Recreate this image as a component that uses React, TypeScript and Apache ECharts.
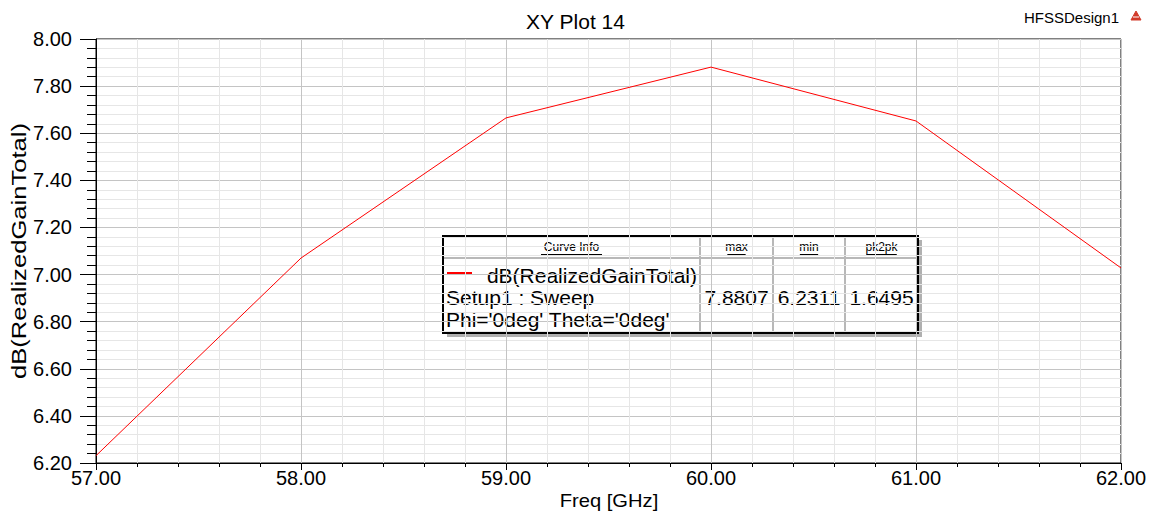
import React, { useEffect, useRef } from "react";
import * as echarts from "echarts";

const freqs = [57, 58, 59, 60, 61, 62];
const gainDb = [6.2311, 7.07, 7.665, 7.8807, 7.652, 7.028];
const legendHeaders = ["Curve Info", "max", "min", "pk2pk"];
const legendLines = ["dB(RealizedGainTotal)", "Setup1 : Sweep", "Phi='0deg' Theta='0deg'"];
const legendValues = ["7.8807", "6.2311", "1.6495"];

const FONT = "Liberation Sans, Arial, sans-serif";

export default function App() {
  const ref = useRef<HTMLDivElement>(null);
  useEffect(() => {
    if (!ref.current) return;
    const chart = echarts.init(ref.current, null, { renderer: "svg" });
    const L = 443, R = 918, T = 236, B = 333, H = 258;
    const cols = [443, 700, 773, 845, 918];
    const headerEls: any[] = [];
    legendHeaders.forEach((h, i) => {
      const cx = (cols[i] + cols[i + 1]) / 2;
      const w = h.length * 6.1;
      headerEls.push({
        type: "text", x: cx, y: 247,
        style: { text: h, fill: "#000", font: `12px ${FONT}`, align: "center", verticalAlign: "middle" },
      });
      headerEls.push({
        type: "line", shape: { x1: cx - w / 2, y1: 254.5, x2: cx + w / 2, y2: 254.5 },
        style: { stroke: "#000", lineWidth: 1 },
      });
    });
    const option: any = {
      animation: false,
      backgroundColor: "#fff",
      textStyle: { fontFamily: FONT },
      title: {
        text: "XY Plot 14", left: "center", top: 6,
        textStyle: { fontSize: 21, fontWeight: "normal", color: "#000", fontFamily: FONT },
      },
      grid: {
        left: 96, right: 30, top: 39, bottom: 53, show: true, borderColor: "#000", borderWidth: 1,
        outerBoundsMode: "none",
      },
      xAxis: {
        type: "value", min: 57, max: 62, interval: 1,
        axisLine: { lineStyle: { color: "#000", width: 1 } },
        axisTick: { show: true, length: 7, lineStyle: { color: "#000" } },
        minorTick: { show: true, splitNumber: 5, length: 4, lineStyle: { color: "#000" } },
        axisLabel: { formatter: (v: number) => v.toFixed(2), fontSize: 20, color: "#000", margin: 5, fontFamily: FONT },
        splitLine: { show: true, lineStyle: { color: "#c4c4c4", width: 1 } },
        minorSplitLine: { show: true, lineStyle: { color: "#e6e6e6", width: 1 } },
      },
      yAxis: {
        type: "value", min: 6.2, max: 8.0, interval: 0.2,
        axisLine: { show: true, lineStyle: { color: "#000", width: 1 } },
        axisTick: { show: true, length: 16, lineStyle: { color: "#000" } },
        minorTick: { show: true, splitNumber: 5, length: 9, lineStyle: { color: "#000" } },
        axisLabel: { formatter: (v: number) => v.toFixed(2), fontSize: 20, color: "#000", margin: 24, fontFamily: FONT },
        splitLine: { show: true, lineStyle: { color: "#c4c4c4", width: 1 } },
        minorSplitLine: { show: true, lineStyle: { color: "#e6e6e6", width: 1 } },
      },
      series: [
        {
          type: "line",
          data: freqs.map((f, i) => [f, gainDb[i]]),
          symbol: "none",
          lineStyle: { color: "#ff0000", width: 1 },
          z: 5,
        },
      ],
      graphic: [
        {
          type: "text", x: 609, y: 501, scaleX: 1.12,
          style: { text: "Freq [GHz]", fill: "#000", font: `18px ${FONT}`, align: "center", verticalAlign: "middle" },
        },
        {
          type: "text", x: 19, y: 251, rotation: Math.PI / 2, scaleX: 1.22,
          style: { text: "dB(RealizedGainTotal)", fill: "#000", font: `21px ${FONT}`, align: "center", verticalAlign: "middle" },
        },
        {
          type: "text", x: 1119, y: 17,
          style: { text: "HFSSDesign1", fill: "#000", font: `15px ${FONT}`, align: "right", verticalAlign: "middle" },
        },
        {
          type: "polygon", shape: { points: [[1136, 11], [1131, 20], [1141, 20]] },
          style: { fill: "#d23a2a", stroke: "#d23a2a", lineWidth: 1 },
        },
        {
          type: "line", shape: { x1: 1133, y1: 17, x2: 1139, y2: 17 },
          style: { stroke: "#fff", lineWidth: 1 },
        },
        {
          type: "group", z: 100,
          children: [
            { type: "rect", shape: { x: L + 4, y: T + 4, width: R - L, height: B - T }, style: { fill: "#b0b0b0" } },
            { type: "rect", shape: { x: L, y: T, width: R - L, height: B - T }, style: { fill: "#fff", stroke: "#000", lineWidth: 2 } },
            { type: "line", shape: { x1: L + 1, y1: H, x2: R - 1, y2: H }, style: { stroke: "#b8b8b8", lineWidth: 2 } },
            ...cols.slice(1, 4).map((x) => ({
              type: "line", shape: { x1: x, y1: T + 1, x2: x, y2: B - 1 }, style: { stroke: "#b8b8b8", lineWidth: 2 },
            })),
            ...headerEls,
            { type: "line", shape: { x1: 447, y1: 273, x2: 472, y2: 273 }, style: { stroke: "#ff0000", lineWidth: 2 } },
            {
              type: "text", x: 697, y: 275,
              style: { text: legendLines[0], fill: "#000", font: `21px ${FONT}`, align: "right", verticalAlign: "middle" },
            },
            {
              type: "text", x: 446, y: 297,
              style: { text: legendLines[1], fill: "#000", font: `21px ${FONT}`, align: "left", verticalAlign: "middle" },
            },
            {
              type: "text", x: 446, y: 319,
              style: { text: legendLines[2], fill: "#000", font: `21px ${FONT}`, align: "left", verticalAlign: "middle" },
            },
            ...legendValues.map((v, i) => ({
              type: "text", x: (cols[i + 1] + cols[i + 2]) / 2, y: 297,
              style: { text: v, fill: "#000", font: `21px ${FONT}`, align: "center", verticalAlign: "middle" },
            })),
          ],
        },
      ],
    };
    chart.setOption(option);
    return () => chart.dispose();
  }, []);
  return <div ref={ref} style={{ width: 1151, height: 516, position: "absolute", left: 0, top: 0 }} />;
}
